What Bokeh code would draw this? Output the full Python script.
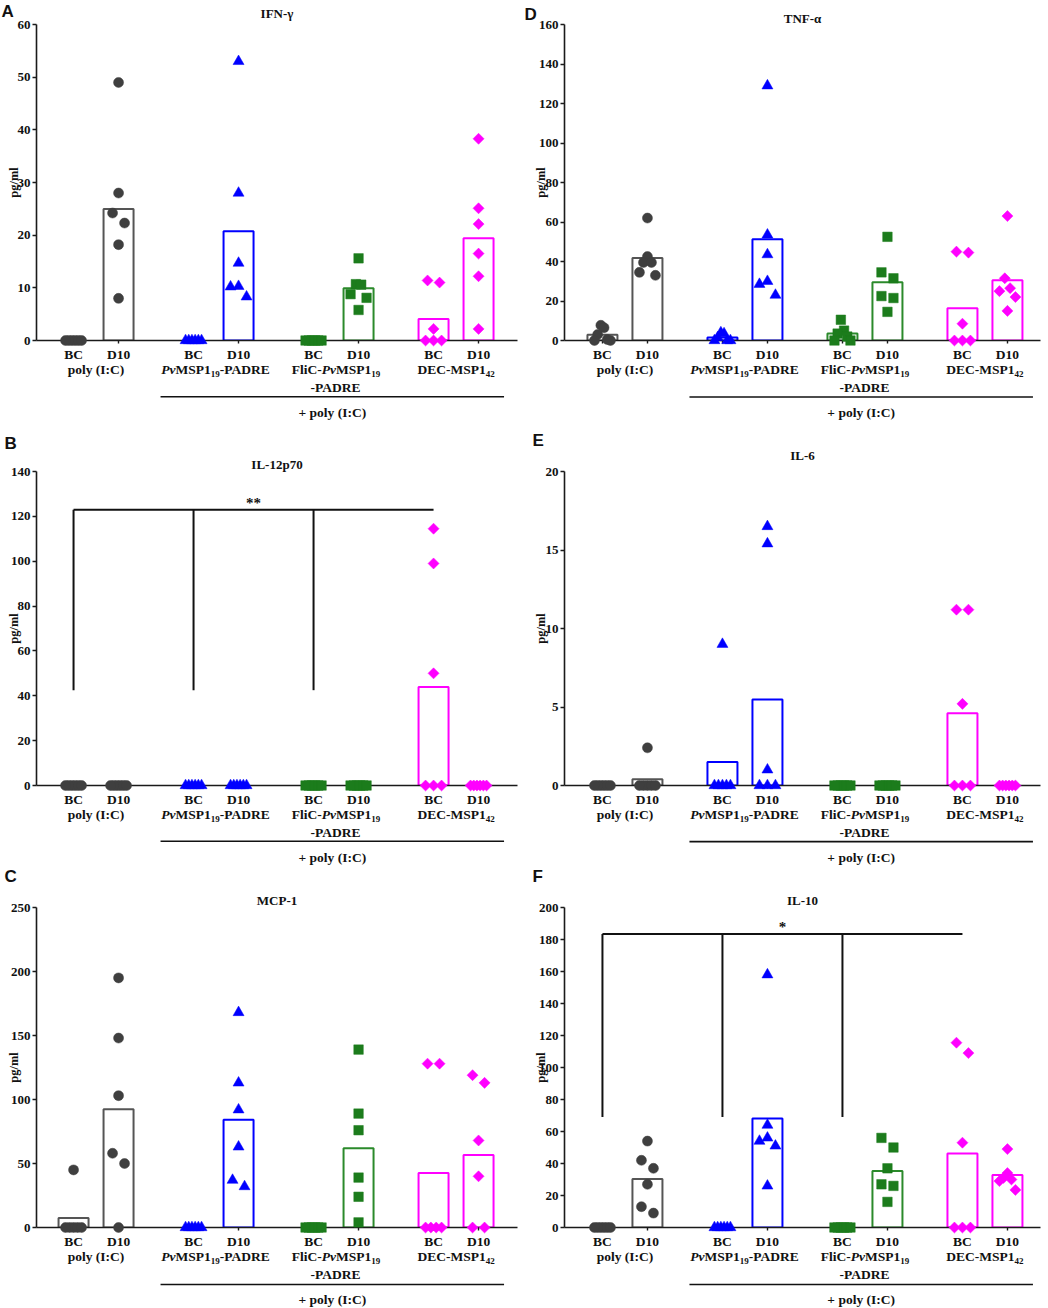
import numpy as np
from bokeh.plotting import figure
from bokeh.layouts import column, row
from bokeh.models import ColumnDataSource, FixedTicker, Range1d
from bokeh.core.properties import value
from bokeh.embed import file_html
from bokeh.resources import INLINE

# ---------------------------------------------------------------- data
timepoints = ["BC", "D10"]
# group labels as styled runs: b = bold, bi = bold italic, sub = subscript
group_label_runs = [
    [[("poly (I:C)", "b")]],
    [[("Pv", "bi"), ("MSP1", "b"), ("19", "sub"), ("-PADRE", "b")]],
    [[("FliC-", "b"), ("Pv", "bi"), ("MSP1", "b"), ("19", "sub")], [("-PADRE", "b")]],
    [[("DEC-MSP1", "b"), ("42", "sub")]],
]
common_label = "+ poly (I:C)"
y_label = "pg/ml"
group_colors = ["#3f3f3f", "#0000ff", "#1c7c1c", "#ff00ff"]
bar_colors = ["#555555", "#0000ff", "#2b8a2b", "#ff00ff"]
group_markers = ["circle", "triangle", "square", "diamond"]

# IFN-gamma (A)
ifng_bc = [[0, 0, 0, 0, 0, 0], [0, 0, 0, 0, 0, 0], [0, 0, 0, 0, 0, 0], [11.4, 11.0, 2.2, 0, 0, 0]]
ifng_d10 = [[49, 28, 24.2, 22.3, 18.2, 8], [53, 28, 14.7, 10.3, 10.2, 8.3],
            [15.6, 10.7, 10.6, 8.8, 8.1, 5.8], [38.3, 25.1, 22.1, 16.5, 12.2, 2.2]]
# TNF-alpha (D)
tnf_bc = [[7.7, 6.5, 3.0, 0.5, 0, 0], [4, 3.5, 1.5, 0, 0, 0], [10.5, 5, 3.5, 2, 0, 0], [45, 44.5, 8.5, 0, 0, 0]]
tnf_d10 = [[62, 42.5, 39.5, 39.5, 34.5, 33], [129, 53.5, 43.5, 30, 28.5, 23],
           [52.5, 34.5, 31.5, 22.5, 21.5, 14.5], [63, 31.5, 26.5, 25, 22, 15]]
# IL-12p70 (B)
il12_bc = [[0, 0, 0, 0, 0, 0], [0, 0, 0, 0, 0, 0], [0, 0, 0, 0, 0, 0], [114.5, 99, 50, 0, 0, 0]]
il12_d10 = [[0, 0, 0, 0, 0, 0], [0, 0, 0, 0, 0, 0], [0, 0, 0, 0, 0, 0], [0, 0, 0, 0, 0, 0]]
il12_sig = {"y": 123, "drop": 42.5, "text": "**"}
# IL-6 (E)
il6_bc = [[0, 0, 0, 0, 0, 0], [9, 0, 0, 0, 0, 0], [0, 0, 0, 0, 0, 0], [11.2, 11.2, 5.2, 0, 0, 0]]
il6_d10 = [[2.4, 0, 0, 0, 0, 0], [16.5, 15.4, 1.0, 0, 0, 0], [0, 0, 0, 0, 0, 0], [0, 0, 0, 0, 0, 0]]
# MCP-1 (C)
mcp1_bc = [[45, 0, 0, 0, 0, 0], [0, 0, 0, 0, 0, 0], [0, 0, 0, 0, 0, 0], [128, 128, 0, 0, 0, 0]]
mcp1_d10 = [[195, 148, 103, 58, 50, 0], [168, 113, 92, 63, 37, 32],
            [139, 89, 76, 39, 24, 4], [119, 113, 68, 40, 0, 0]]
# IL-10 (F)
il10_bc = [[0, 0, 0, 0, 0, 0], [0, 0, 0, 0, 0, 0], [0, 0, 0, 0, 0, 0], [115.5, 109, 53, 0, 0, 0]]
il10_d10 = [[54, 42, 37, 27, 13, 9], [158, 64, 56, 54, 51, 26],
            [56, 50, 37, 27, 26, 16], [49, 34, 31, 30, 29, 23.5]]
il10_sig = {"y": 183.5, "drop": 69, "text": "*"}

# ---------------------------------------------------------------- style
SERIF = "Liberation Serif"
SANS = "Liberation Sans"
PX_PER_X = 15.0           # pixels per x data unit
FS = 13.5                 # label font size
SUB_FS = 9.0

# Times-Bold advance widths (per 1000 em)
_TB = dict(zip("0123456789", [500] * 10))
_TB.update(dict(A=722, B=667, C=722, D=722, E=667, F=611, G=778, H=778, I=389, J=500, K=778, L=667,
                M=944, N=722, O=778, P=611, Q=778, R=722, S=556, T=667, U=722, V=722, W=1000, X=722,
                Y=722, Z=667, a=500, b=556, c=444, d=556, e=444, f=333, g=500, h=556, i=278, j=333,
                k=556, l=278, m=833, n=556, o=500, p=556, q=556, r=444, s=389, t=333, u=556, v=500,
                w=722, x=500, y=500, z=444))
_TB.update({" ": 250, "(": 333, ")": 333, ":": 333, "-": 333, "+": 570})
_TBI = dict(_TB)
_TBI.update(dict(P=611, v=444))


def run_width(text, style):
    table = _TBI if style == "bi" else _TB
    size = SUB_FS if style == "sub" else FS
    return sum(table.get(c, 500) for c in text) * size / 1000.0


def swarm_offsets(vals, px_per_unit):
    vals = np.asarray(vals, float)
    order = list(np.argsort(-vals, kind="stable"))
    offs = np.zeros(len(vals))
    clusters, cur = [], [order[0]]
    for a, b in zip(order[:-1], order[1:]):
        if (vals[a] - vals[b]) * px_per_unit < 11:
            cur.append(b)
        else:
            clusters.append(cur)
            cur = [b]
    clusters.append(cur)
    for cl in clusters:
        n = len(cl)
        if n == 1:
            continue
        step = min(12.0, 16.0 / (n - 1))
        slots = sorted([(i - (n - 1) / 2) * step for i in range(n)], key=lambda s: (abs(s), s))
        for idx, s in zip(cl, slots):
            offs[idx] = s
    return offs


MARKER_STYLE = {
    "circle": dict(marker="circle", size=10, angle=0),
    "triangle": dict(marker="triangle", size=11, angle=0),
    "square": dict(marker="square", size=9.5, angle=0),
    "diamond": dict(marker="square", size=7.8, angle=np.pi / 4),
}


def make_panel(letter, title, bc, d10, ymax, ystep, geo, sig=None):
    width, height = geo["w"], geo["h"]
    top, bottom, left, right = geo["top"], geo["bottom"], geo["left"], geo["right"]
    frame_h = height - top - bottom
    frame_w = width - left - right
    x0 = geo["x0"]
    x1 = x0 + frame_w / PX_PER_X
    ppu = frame_h / ymax

    p = figure(width=width, height=height, output_backend="svg", toolbar_location=None,
               x_range=Range1d(x0, x1), y_range=Range1d(0, ymax), title=None,
               min_border_left=left, min_border_right=right,
               min_border_top=top, min_border_bottom=bottom)
    p.outline_line_color = None
    p.grid.visible = False
    p.background_fill_color = "white"
    p.border_fill_color = "white"

    positions = [8 * g + 3 * t for g in range(4) for t in range(2)]

    # axes
    p.yaxis.ticker = FixedTicker(ticks=list(range(0, ymax + 1, ystep)))
    p.xaxis.ticker = FixedTicker(ticks=positions)
    p.xaxis.major_label_overrides = {pos: timepoints[i % 2] for i, pos in enumerate(positions)}
    for ax in (p.xaxis[0], p.yaxis[0]):
        ax.axis_line_width = 1.6
        ax.axis_line_color = "#1a1a1a"
        ax.major_tick_line_width = 1.4
        ax.major_tick_line_color = "#1a1a1a"
        ax.minor_tick_line_color = None
        ax.major_tick_in = 0
        ax.major_label_text_font = SERIF
        ax.major_label_text_font_style = "bold"
        ax.major_label_text_color = "#111111"
    p.yaxis.major_tick_out = 4
    p.yaxis.major_label_text_font_size = "13px"
    p.yaxis.major_label_standoff = 2
    p.xaxis.major_tick_out = 3
    p.xaxis.major_label_text_font_size = f"{FS}px"
    p.xaxis.major_label_standoff = 3

    # bars (mean of each group) and points
    for g in range(4):
        for t, vals in enumerate((bc[g], d10[g])):
            xpos = positions[2 * g + t]
            m = float(np.mean(vals))
            if m > 0:
                p.vbar(x=[xpos], top=[m], bottom=0, width=2.0, fill_color=None,
                       line_color=bar_colors[g], line_width=2)
        xs, ys = [], []
        for t, vals in enumerate((bc[g], d10[g])):
            offs = swarm_offsets(vals, ppu)
            xs += list(positions[2 * g + t] + offs / PX_PER_X)
            ys += list(vals)
        ms = MARKER_STYLE[group_markers[g]]
        p.scatter(xs, ys, marker=ms["marker"], size=ms["size"], angle=ms["angle"],
                  fill_color=group_colors[g], line_color=group_colors[g], line_width=0.5,
                  level="overlay")

    # significance bracket
    if sig is not None:
        bcs = [positions[0], positions[2], positions[4], positions[6]]
        p.line([bcs[0], bcs[3]], [sig["y"], sig["y"]], line_color="#111111", line_width=2)
        p.multi_line([[b, b] for b in bcs[:3]], [[sig["y"], sig["drop"]]] * 3,
                     line_color="#111111", line_width=2)
        p.text(x=[(bcs[0] + bcs[3]) / 2], y=[sig["y"]], text=[sig["text"]], y_offset=[1],
               text_font=value(SERIF), text_font_style="bold", text_font_size="15px",
               text_align="center", text_baseline="bottom", text_color="#111111")

    # labels under the axis
    rx, rtext, rxo, ryo, rstyle, rsize = [], [], [], [], [], []
    for g, lines in enumerate(group_label_runs):
        cx = (positions[2 * g] + positions[2 * g + 1]) / 2
        for li, runs in enumerate(lines):
            total = sum(run_width(tx, st) for tx, st in runs)
            start = -total / 2
            for tx, st in runs:
                rx.append(cx)
                rtext.append(tx)
                rxo.append(start)
                ryo.append(geo["grp_y"] + li * 18 + (4 if st == "sub" else 0))
                rstyle.append("bold italic" if st == "bi" else "bold")
                rsize.append(f"{SUB_FS}px" if st == "sub" else f"{FS}px")
                start += run_width(tx, st)
    src = ColumnDataSource(dict(x=rx, y=[0] * len(rx), text=rtext, xo=rxo, yo=ryo,
                                style=rstyle, size=rsize))
    p.text(x="x", y="y", text="text", x_offset="xo", y_offset="yo", source=src,
           text_font=value(SERIF), text_font_style="style", text_font_size="size",
           text_align="left", text_baseline="middle", text_color="#111111", level="overlay")

    line_x = [5.8, 28.7]
    line_y = -(geo["grp_y"] + 28) / ppu
    p.line(line_x, [line_y, line_y], line_color="#111111", line_width=1.6, level="overlay")
    p.text(x=[sum(line_x) / 2], y=[0], text=[common_label], y_offset=[geo["grp_y"] + 43],
           text_font=value(SERIF), text_font_style="bold", text_font_size=f"{FS}px",
           text_align="center", text_baseline="middle", text_color="#111111", level="overlay")

    # title, panel letter, y label
    p.text(x=[(x0 + x1) / 2], y=[ymax], text=[title], y_offset=[-geo["tgap"]],
           text_font=value(SERIF), text_font_style="bold", text_font_size="13px",
           text_align="center", text_baseline="middle", text_color="#111111", level="overlay")
    p.text(x=[x0], y=[ymax], text=[letter], x_offset=[geo["lx"] - left],
           y_offset=[geo["ly"] - top], text_font=value(SANS), text_font_style="bold",
           text_font_size="17px", text_align="left", text_baseline="top",
           text_color="#111111", level="overlay")
    p.text(x=[x0], y=[ymax / 2], text=[y_label], x_offset=[-geo["ylx"]], angle=np.pi / 2,
           text_font=value(SERIF), text_font_style="bold", text_font_size="12.5px",
           text_align="center", text_baseline="middle", text_color="#111111", level="overlay")
    return p


LEFT = dict(w=524, left=36, right=7, x0=-2.47, ylx=23)
RIGHT = dict(w=524, left=40, right=8, x0=-2.53, ylx=24)

geoA = dict(LEFT, h=426, top=24, bottom=82, tgap=11, lx=1, ly=1, grp_y=29)
geoD = dict(RIGHT, h=426, top=21, bottom=86, tgap=6, lx=0, ly=1, grp_y=29)
geoB = dict(LEFT, h=440, top=38, bottom=81, tgap=7, lx=4, ly=0, grp_y=29)
geoE = dict(RIGHT, h=440, top=45, bottom=76, tgap=16, lx=8, ly=4, grp_y=29)
geoC = dict(LEFT, h=442, top=41, bottom=81, tgap=7, lx=4, ly=0, grp_y=29)
geoF = dict(RIGHT, h=442, top=41, bottom=81, tgap=7, lx=8, ly=0, grp_y=29)

pA = make_panel("A", "IFN-γ", ifng_bc, ifng_d10, 60, 10, geoA)
pD = make_panel("D", "TNF-α", tnf_bc, tnf_d10, 160, 20, geoD)
pB = make_panel("B", "IL-12p70", il12_bc, il12_d10, 140, 20, geoB, il12_sig)
pE = make_panel("E", "IL-6", il6_bc, il6_d10, 20, 5, geoE)
pC = make_panel("C", "MCP-1", mcp1_bc, mcp1_d10, 250, 50, geoC)
pF = make_panel("F", "IL-10", il10_bc, il10_d10, 200, 20, geoF, il10_sig)

layout = column(row(pA, pD), row(pB, pE), row(pC, pF))
open("out.html", "w").write(file_html(layout, INLINE))
